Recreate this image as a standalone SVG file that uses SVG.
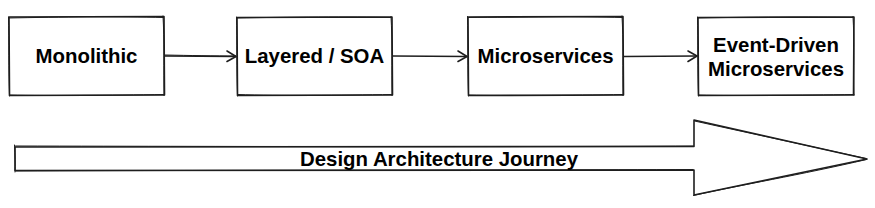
<svg xmlns="http://www.w3.org/2000/svg" width="875" height="208" viewBox="0 0 875 208">
<defs>
<style>
.s{fill:none;stroke:#1e1e1e;stroke-linecap:round;stroke-linejoin:round}
.a{stroke-width:1.6}
.b{stroke-width:1}
.t{font-family:"Liberation Sans",Arial,sans-serif;font-weight:bold;font-size:20.4px;fill:#000;text-anchor:middle}
</style>
</defs>
<rect width="875" height="208" fill="#fff"/>
<g id="node-monolithic">
<path class="s a" d="M9 17 L164 16.5 L164.5 95 L9.5 95.5 Z"/>
<path class="s b" d="M8.5 18 C60 17 120 16 163.5 17.5 M163 16 C164.5 40 163.5 70 164 95.5 M164 94.5 C110 95 50 96 10 95 M9.5 96 C8.5 70 9 40 8.5 17"/>
<text class="t" x="86.5" y="63">Monolithic</text>
</g>
<g id="node-layered">
<path class="s a" d="M237 17.5 L392 17 L392.5 95 L237.5 95.5 Z"/>
<path class="s b" d="M236.5 18 C290 17 350 16.5 391.5 17.5 M391 16.5 C392.5 40 391.5 70 392 95.5 M392 94.5 C340 95 280 96 238 94.5 M237.5 96 C236.5 70 237 40 236.5 17"/>
<text class="t" x="314.5" y="63">Layered / SOA</text>
</g>
<g id="node-microservices">
<path class="s a" d="M468 17 L623 16.5 L623.5 95 L468.5 95.5 Z"/>
<path class="s b" d="M467.5 17.5 C520 17 580 16 622.5 17.5 M622 16 C623.5 40 622.5 70 623 95.5 M623 94.5 C570 95 510 96 469 95 M468.5 96 C467.5 70 468 40 467.5 16.5"/>
<text class="t" x="545.5" y="63">Microservices</text>
</g>
<g id="node-event-driven">
<path class="s a" d="M698 17.5 L854 17 L853.5 95 L698.5 95.5 Z"/>
<path class="s b" d="M697.5 18 C750 17 810 16.5 853.5 17.5 M853 16.5 C854.5 40 853.5 70 854 95.5 M854 94.5 C800 95 740 96 699 95 M698.5 96 C697.5 70 698 40 697.5 17"/>
<text class="t" x="776" y="52">Event-Driven</text>
<text class="t" x="776" y="76">Microservices</text>
</g>
<g id="connectors">
<path class="s a" d="M165 56 L236 56.5"/>
<path class="s b" d="M165 55 C190 55.5 215 56 235.5 56"/>
<path class="s a" d="M227 51 L236 56.5 L227 61.5"/>
<path class="s a" d="M393 56 L467 56.5"/>
<path class="s a" d="M458 51 L467 56.5 L458 61.5"/>
<path class="s a" d="M624 56.5 L697 56"/>
<path class="s a" d="M688 51 L697 56 L688 61.5"/>
</g>
<g id="journey-arrow">
<path class="s a" d="M15 147 L694 146.5 L694 120 L867 159 L694 195 L694 170 L15 170.5 Z" fill="#fff"/>
<path class="s b" d="M15.5 146 C250 146.5 500 147 693.5 146 M694.5 121 L866 158.5 M866.5 159.5 C800 175 740 185 693.5 195.5 M15.5 171 C250 170 500 170.5 693 169.5 M14.5 145 C15 155 15.5 165 15 172"/>
<text class="t" x="439" y="166">Design Architecture Journey</text>
</g>
</svg>
